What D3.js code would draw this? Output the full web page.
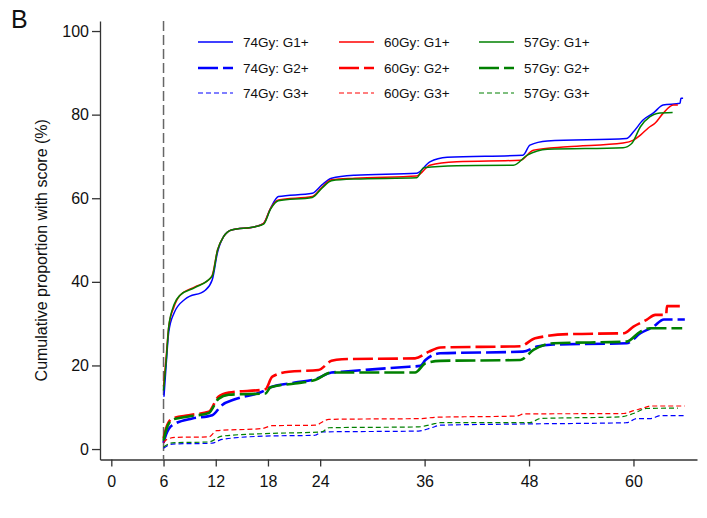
<!DOCTYPE html>
<html>
<head>
<meta charset="utf-8">
<script src="https://cdn.jsdelivr.net/npm/d3@7"></script>
<style>
  html, body { margin: 0; padding: 0; background: #fff; }
  svg { display: block; font-family: "Liberation Sans", Arial, Helvetica, sans-serif; }
</style>
</head>
<body>
<svg id="chart" width="707" height="518"></svg>
<script>
// Months since start of radiotherapy; cumulative proportion (%) with toxicity score
const xTicks = [0, 6, 12, 18, 24, 36, 48, 60];
const yTicks = [0, 20, 40, 60, 80, 100];
const landmarkMonth = 6;

const g1_74 = [[6.05,12.5],[6.3,20],[6.6,28],[7.2,32.5],[8.5,35.9],[10.8,38],[11.6,40.5],[12.2,47],[12.9,50.8],[13.8,52.4],[16.5,53.2],[17.5,54],[18.3,57.6],[19.2,60.4],[23.1,61.2],[24.2,63.2],[25.3,64.8],[28,65.5],[35.1,66],[36.6,68.7],[38.6,69.8],[47.3,70.3],[48.1,72.7],[50.1,73.7],[59.2,74.3],[60,75.9],[61.1,78.7],[62.3,80.4],[63.4,82.3],[65.35,82.7],[65.45,83.9],[65.7,83.9]];
const g1_60 = [[6,15],[6.3,22],[6.6,29.3],[7.2,34],[7.9,36.8],[9.6,38.8],[11.2,40.5],[11.6,41.6],[12.2,47.6],[12.9,50.8],[13.8,52.4],[16.5,53.2],[17.5,54],[18.3,57.6],[19.2,59.6],[23.1,60.4],[24.2,62.6],[25.3,64.4],[28,64.8],[35.1,65.3],[36.6,67.9],[39.7,68.7],[47,69.1],[48.5,71.5],[52.4,72.3],[58.8,73.2],[60,73.9],[60.8,75.1],[61.7,76.8],[62.5,78],[63.4,80.3],[64.6,82.3],[65.1,82.3]];
const g1_57 = [[6,14],[6.3,21],[6.6,29.3],[7.2,34.5],[7.9,36.8],[9.6,38.6],[11.6,41.4],[12.2,47.6],[12.9,50.8],[13.8,52.4],[16.5,53.2],[17.5,53.8],[18.3,57.4],[19.2,59.4],[23.1,60.2],[24.2,62.4],[25.3,64.2],[28,64.6],[35.1,64.9],[35.9,67.3],[39.7,67.8],[46.2,67.9],[47.8,70.3],[50.1,71.7],[58.8,72.1],[59.8,73.1],[60.8,77.1],[61.9,79.5],[62.7,80.3],[64.5,80.5]];

const g2_74 = [[6,1.5],[6.3,3.5],[7,5.7],[9.3,7.3],[11.6,8.1],[12.7,10.5],[14.2,11.9],[17.3,13.7],[18.3,14.8],[21.1,15.9],[23.4,16.7],[25.3,18.3],[26.5,18.5],[34.2,19.7],[35.5,19.9],[36.1,21.3],[37.8,22.9],[47.3,23.3],[48.9,24.5],[50.8,25],[59.2,25.3],[60.8,27.7],[62.3,29.3],[63.5,31],[65.9,31]];
const g2_60 = [[6,2.5],[6.3,5],[7,7.3],[8.9,8.1],[11.2,8.9],[12.3,12.5],[13.5,13.5],[17.7,14.3],[18.5,17.3],[20.4,18.5],[23.8,18.9],[25.3,21.1],[26.5,21.5],[34.9,21.7],[36.5,23.3],[37.8,24.3],[47,24.6],[48.7,26.5],[52.7,27.5],[58.9,27.7],[60,29.3],[61.5,30.9],[62.5,32.1],[63.75,32.1],[63.85,34.2],[65.9,34.2]];
const g2_57 = [[6,2],[6.3,4.5],[7,7],[8.9,7.8],[11.2,8.6],[12.3,12],[13.5,13],[17.7,13.3],[18.3,14.8],[21.1,15.7],[23.4,16.5],[25.3,18.3],[34.9,18.3],[36.1,20.5],[37.8,21.1],[47,21.3],[48.5,23.7],[50.8,25.3],[59.2,25.7],[60.8,28.1],[61.9,28.9],[65.6,28.9]];

const g3_74 = [[6,0.2],[6.3,0.6],[7,1.2],[11.6,1.4],[12.7,2.3],[17.7,3.1],[23.4,3.3],[24.2,4.1],[35.3,4.3],[36.8,5.1],[37.8,5.7],[47.4,6.0],[59.2,6.3],[60.4,7.3],[62,7.3],[63.1,8.0],[65.9,8]];
const g3_60 = [[6,1.5],[6.3,2.2],[7.4,2.8],[11.2,2.9],[12.1,4.4],[17.3,4.9],[18.5,5.6],[23.4,5.7],[25,7.1],[35.7,7.3],[37.2,7.6],[46.6,7.9],[47.4,8.4],[58.9,8.5],[60,9.2],[61,9.7],[62,10.3],[65.9,10.3]];
const g3_57 = [[6,0.5],[6.3,0.9],[7,1.5],[11.2,1.7],[12.7,3.1],[17.7,3.7],[24.2,4.1],[25,5.1],[35.3,5.3],[36.8,5.9],[37.8,6.3],[48.1,6.3],[49.3,7.3],[58.5,7.7],[60,8.5],[61.5,9.7],[65.1,9.8]];

const doses = ["74Gy", "60Gy", "57Gy"];
const doseColors = ["#0000ff", "#ff0000", "#008000"];
const grades = ["G1+", "G2+", "G3+"];

const seriesByGrade = [
  [g1_74, g1_60, g1_57],
  [g2_74, g2_60, g2_57],
  [g3_74, g3_60, g3_57]
];

// line styles per grade: width, dash pattern
const gradeStyle = [
  { width: 1.5, dash: null },
  { width: 2.6, dash: "20,5" },
  { width: 1.2, dash: "5,3" }
];

const svg = d3.select("#chart");
const plot = { left: 100, right: 697, top: 21, bottom: 459.5 };

const x = d3.scaleLinear().domain([-1.3, 67.3]).range([plot.left, plot.right]);
const y = d3.scaleLinear().domain([-2.5, 102.4]).range([plot.bottom, plot.top]);

// panel letter
svg.append("text").attr("x", 11).attr("y", 28)
  .attr("font-size", 25).attr("fill", "#111").text("B");

// axes
const axisColor = "#333";
const yAxis = svg.append("g").attr("transform", `translate(${plot.left},0)`)
  .call(d3.axisLeft(y).tickValues(yTicks).tickSize(8).tickSizeOuter(0).tickPadding(3));
const xAxis = svg.append("g").attr("transform", `translate(0,${plot.bottom})`)
  .call(d3.axisBottom(x).tickValues(xTicks).tickSize(7).tickSizeOuter(0).tickPadding(9));
[yAxis, xAxis].forEach(g => {
  g.selectAll("path.domain").attr("stroke", axisColor).attr("stroke-width", 1.3);
  g.selectAll(".tick line").attr("stroke", axisColor).attr("stroke-width", 1.3);
  g.selectAll(".tick text").attr("font-size", 16).attr("fill", "#111")
    .attr("font-family", "'Liberation Sans', Arial, sans-serif");
});

// y-axis title
svg.append("text")
  .attr("transform", `translate(47,${(plot.top + plot.bottom) / 2 + 10}) rotate(-90)`)
  .attr("text-anchor", "middle").attr("font-size", 16).attr("fill", "#111")
  .text("Cumulative proportion with score (%)");

// landmark reference line at 6 months
svg.append("line")
  .attr("x1", x(landmarkMonth)).attr("x2", x(landmarkMonth))
  .attr("y1", plot.top).attr("y2", plot.bottom)
  .attr("stroke", "#666").attr("stroke-width", 1.5).attr("stroke-dasharray", "10,4");

// curves
const line = d3.line().x(d => x(d[0])).y(d => y(d[1])).curve(d3.curveMonotoneX);
const curves = svg.append("g");
seriesByGrade.forEach((group, gi) => {
  group.forEach((data, di) => {
    curves.append("path")
      .datum(data)
      .attr("d", line)
      .attr("fill", "none")
      .attr("stroke", doseColors[di])
      .attr("stroke-width", gradeStyle[gi].width)
      .attr("stroke-dasharray", gradeStyle[gi].dash)
      .attr("stroke-linejoin", "round");
  });
});

// legend: columns are doses, rows are grades
const legend = svg.append("g");
const colX = [198, 339, 479];
const rowY = [42, 68, 93];
doses.forEach((dose, di) => {
  grades.forEach((grade, gi) => {
    const lx = colX[di], ly = rowY[gi];
    legend.append("line")
      .attr("x1", lx).attr("x2", lx + 35).attr("y1", ly).attr("y2", ly)
      .attr("stroke", doseColors[di])
      .attr("stroke-width", gradeStyle[gi].width)
      .attr("stroke-dasharray", gradeStyle[gi].dash);
    legend.append("text")
      .attr("x", lx + 45).attr("y", ly + 5)
      .attr("font-size", 13.5).attr("fill", "#111")
      .text(`${dose}: ${grade}`);
  });
});
</script>
</body>
</html>
